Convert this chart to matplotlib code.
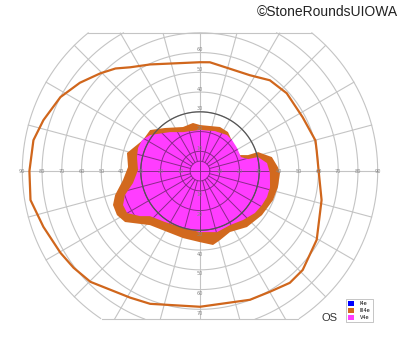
import numpy as np
import matplotlib.pyplot as plt
from matplotlib.patches import Polygon, Patch

# isopters, (angle in deg ccw from right, eccentricity in deg)
outer_ang = [0, 10, 14.8, 27.7, 41.9, 52.4, 62.5, 84.8, 90, 115.1, 123.9, 129.5, 135.6,
             143.7, 152.1, 162, 169.5, 180, 189.7, 199.6, 210.4, 217.4, 225.3, 241.1, 249.4,
             270, 291.2, 300, 308.8, 316.1, 329.5, 346.6]
outer_ecc = [60.1, 60, 60.5, 58.7, 59, 58, 54.7, 55.3, 55.1, 59.6, 63.3, 67.3, 70.7,
             75.5, 80, 83.4, 85.8, 86.4, 87.1, 84.2, 81.9, 80.6, 78.9, 73.2, 71.8,
             68.7, 69.9, 70.6, 72.6, 72.2, 68.6, 63.3]

orange_ang = [358.6, 2.9, 11, 18.1, 18.4, 21.8, 29.6, 40.3, 54.3, 65.6, 90, 98.3,
              111.1, 129.1, 140.6, 151.5, 166.1, 176.8, 186.7, 195.8, 201.3, 207.9,
              214.2, 227.2, 255.8, 270, 280, 286.2, 296.2, 310, 324.6, 338.3, 348.4]
orange_ecc = [40.5, 39.5, 37.1, 30.9, 25.6, 21.8, 21.5, 21.9, 24.3, 24.5, 23.3, 24.6,
              23.9, 28.1, 32.7, 32.9, 38.1, 36.5, 39.3, 44.7, 47.3, 47.6,
              45.9, 37.3, 35, 36, 38, 36.4, 34.4, 37, 38.5, 39.8, 40.3]

magenta_ang = [358.4, 6.8, 13.6, 14, 18.9, 31.9, 44.1, 53.1, 69.4, 90, 113.6, 127.6,
               144.2, 151.9, 159.6, 167.5, 179.1, 190.2, 197.7, 203.8, 209.9, 216.9,
               222, 235.5, 253.4, 270, 285.6, 299.1, 311.3, 322.6, 331.3, 338.8, 347.1]
magenta_ecc = [35.4, 34.2, 30.2, 25.1, 21.9, 22.1, 22.6, 22.8, 21.6, 20.8, 21.5, 24.9,
               31.2, 33.3, 33.5, 32.7, 31.4, 34.5, 39.9, 42.6, 42.6, 38,
               34.1, 31.3, 30.1, 30.9, 32.1, 31.3, 33, 35, 35.8, 36.4, 36.4]

legend_labels = ["I4e", "III4e", "V4e"]
legend_colors = ["#0000ff", "#d2691e", "#ff3dff"]
ring_labels = [10, 20, 30, 40, 50, 60, 70, 80, 90]


def to_xy(ang, ecc):
    a = np.radians(ang)
    return np.array(ecc) * np.cos(a), np.array(ecc) * np.sin(a)


fig = plt.figure(figsize=(4, 3.52), dpi=100)
ax = fig.add_axes([0, 0, 1, 1])
ax.set_xlim(-101.3, 101.3)
ax.set_ylim(-91.6, 86.6)
ax.axis("off")

top, bottom = 70, -75
light = "#c4c4c4"


def grid_lines(color, lw, z, clip=None):
    arts = []
    t = np.linspace(0, 2 * np.pi, 721)
    for r in [5] + list(range(10, 91, 10)):
        x, y = r * np.cos(t), r * np.sin(t)
        m = (y <= top) & (y >= bottom)
        x = np.where(m, x, np.nan)
        y = np.where(m, y, np.nan)
        arts += ax.plot(x, y, color=color, lw=lw, zorder=z)
    for a in range(0, 360, 15):
        r0 = 0 if a % 90 == 0 else 5
        rr = np.linspace(r0, 90, 200)
        x, y = rr * np.cos(np.radians(a)), rr * np.sin(np.radians(a))
        m = (y <= top) & (y >= bottom)
        arts += ax.plot(x[m], y[m], color=color, lw=lw, zorder=z)
    if clip is not None:
        for art in arts:
            art.set_clip_path(clip)
    return arts


grid_lines(light, 0.8, 0)
for yy in (top, bottom):
    hw = np.sqrt(90 ** 2 - yy ** 2)
    ax.plot([-hw, hw], [yy, yy], color=light, lw=0.8, zorder=0)

ox, oy = to_xy(orange_ang, orange_ecc)
ax.add_patch(Polygon(np.column_stack([ox, oy]), closed=True,
                     facecolor="#d2691e", edgecolor="none", zorder=1))
mx, my = to_xy(magenta_ang, magenta_ecc)
mag = Polygon(np.column_stack([mx, my]), closed=True,
              facecolor="#ff3dff", edgecolor="none", zorder=2)
ax.add_patch(mag)
grid_lines("#8a2a8a", 0.7, 3, clip=mag)

t = np.linspace(0, 2 * np.pi, 400)
ax.plot(30 * np.cos(t), 30 * np.sin(t), color="#555555", lw=0.9, zorder=4)

lx, ly = to_xy(outer_ang + [outer_ang[0]], outer_ecc + [outer_ecc[0]])
ax.plot(lx, ly, color="#d0661c", lw=1.6, zorder=5)

for r in ring_labels:
    for s in (-1, 1):
        ax.text(s * r, 0, str(r), fontsize=3.6, color="#888888",
                ha="center", va="center", zorder=6)
    if r + 1.5 <= top:
        ax.text(0, r + 1.5, str(r), fontsize=3.6, color="#888888",
                ha="center", va="center", zorder=6)
    if -r - 2 >= bottom:
        ax.text(0, -r - 2, str(r), fontsize=3.6, color="#888888",
                ha="center", va="center", zorder=6)

fig.text(0.995, 0.985, "\u00a9StoneRoundsUIOWA", fontsize=10, family="Liberation Sans",
         color="#222222", ha="right", va="top")
fig.text(0.805, 0.098, "OS", fontsize=8, family="Liberation Sans",
         color="#333333", ha="left", va="center")

handles = [Patch(facecolor=c, edgecolor="none") for c in legend_colors]
leg = ax.legend(handles, legend_labels, loc="upper left",
                bbox_to_anchor=(0.865, 0.151), bbox_transform=fig.transFigure,
                fontsize=3.6, handlelength=1.2, handleheight=1.2,
                labelspacing=0.35, borderpad=0.4, handletextpad=1.2,
                borderaxespad=0, fancybox=False, framealpha=1)
leg.get_frame().set_edgecolor("#bbbbbb")
leg.get_frame().set_linewidth(0.6)

fig.savefig("out.png", dpi=100)
